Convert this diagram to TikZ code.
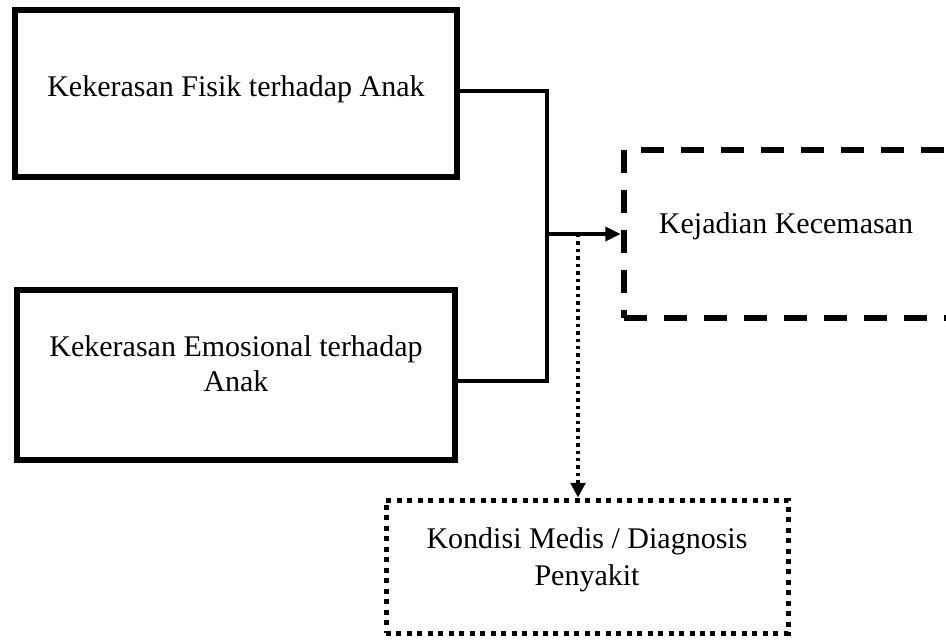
\documentclass[tikz,border=0pt]{standalone}
\usepackage{fontspec}
\setmainfont{Liberation Serif}
\usetikzlibrary{arrows.meta}
\begin{document}
\begin{tikzpicture}[x=0.75pt,y=-0.75pt,
  solidbox/.style={draw, line width=4.5pt, inner sep=0pt},
  dashbox/.style={draw, line width=5pt, dash pattern=on 17.25pt off 12.75pt, inner sep=0pt, minimum width=252pt, minimum height=126pt},
  dotbox/.style={draw, line width=3.75pt, dash pattern=on 3.75pt off 4.1pt, inner sep=0pt, minimum width=301.5pt, minimum height=99.75pt},
  txt/.style={font=\fontsize{22.5pt}{26pt}\selectfont, inner sep=0pt, anchor=base},
  conn/.style={line width=2.5pt},
  dotconn/.style={line width=2.6pt, dash pattern=on 2.6pt off 3pt},
  ]
\useasboundingbox (0,0) rectangle (946,641);
\clip (0,0) rectangle (946,641);
\fill[white] (0,0) rectangle (946,641);

\node[solidbox, minimum width=331.5pt, minimum height=125.25pt] (fisik) at (236,93.5) {};
\node[txt] (fisikT) at (236,97) {Kekerasan Fisik terhadap Anak};

\node[solidbox, minimum width=328.5pt, minimum height=127.5pt] (emo) at (236,375) {};
\node[txt] (emoT1) at (236,357) {Kekerasan Emosional terhadap};
\node[txt] (emoT2) at (236,392) {Anak};

\node[dashbox] (kej) at (792,234) {};
\node[txt] (kejT) at (786,234) {Kejadian Kecemasan};

\node[dotbox] (diag) at (587,566.5) {};
\node[txt] (diagT1) at (587,548) {Kondisi Medis / Diagnosis};
\node[txt] (diagT2) at (587,585) {Penyakit};

\coordinate (j1) at (547,91);
\coordinate (j2) at (547,381);
\coordinate (j3) at (547,234);
\coordinate (j4) at (578,234);

\draw[conn] (fisik.east |- j1) -- (j1) -- (j2) -- (emo.east |- j2);
\draw[conn, -{Triangle[length=11.5pt,width=10.5pt]}] (j3) -- (kej.west);
\draw[dotconn, -{Triangle[length=11pt,width=11pt]}] (j4) -- (j4 |- diag.north);
\end{tikzpicture}
\end{document}
